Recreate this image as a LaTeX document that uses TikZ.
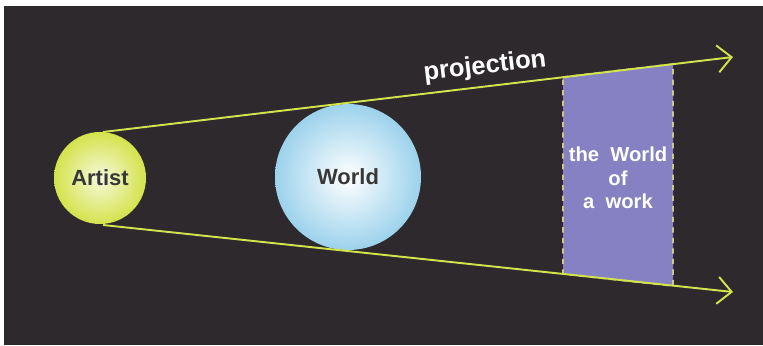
\documentclass[tikz,border=0pt]{standalone}
\usepackage{fontspec}
\setmainfont{Liberation Sans}
\usepackage{xcolor}
\usetikzlibrary{positioning, shapes, arrows.meta, calc}
\definecolor{fondo}{HTML}{2D292D}
\definecolor{lima}{HTML}{D3E34C}
\definecolor{cielo}{HTML}{9CD2EC}
\definecolor{lavanda}{HTML}{8581C2}
\definecolor{borde}{HTML}{C9C98F}

\begin{document}
\begin{tikzpicture}[
  x=0.02cm, y=-0.02cm,
  ray/.style={-{Straight Barb[length=2.8mm, width=5.4mm, line width=1.1pt]}, draw=lima, line width=1.1pt},
  artistball/.style={circle, minimum size=92*0.02cm, inner sep=0pt,
                     inner color=white!80!lima, outer color=lima},
  worldball/.style={circle, minimum size=146*0.02cm, inner sep=0pt,
                    inner color=white, outer color=cielo},
  label/.style={font=\bfseries\fontsize{12.5}{14}\selectfont, text=black!78},
  caption/.style={font=\bfseries\fontsize{11.5}{13.5}\selectfont, text=white, align=center}
]
  \useasboundingbox (0,0) rectangle (763,345);
  \fill[white] (0,0) rectangle (763,345);
  \fill[fondo] (4,6) rectangle (763,345);

  \node[artistball] (artist) at (100,178) {};
  \node[label] at (artist) {Artist};
  \node[worldball] (world) at (348,177) {};
  \node[label] at (world) {World};

  \coordinate (topStart) at (103,132);
  \coordinate (topEnd) at (733,57);
  \coordinate (lowStart) at (103,225);
  \coordinate (lowEnd) at (733,292);

  % the projected plane between both rays
  \coordinate (workTL) at (563,77);
  \coordinate (workTR) at (673,64);
  \coordinate (workBR) at (673,286);
  \coordinate (workBL) at (563,274);
  \draw[borde, dashed, line width=0.9pt, fill=lavanda]
    (workTL) -- (workTR) -- (workBR) -- (workBL) -- cycle;
  \node[caption] (work) at (618,178) {the\ \ World\\of\\a\ \ work};

  \draw[ray] (topStart) -- (topEnd);
  \draw[ray] (lowStart) -- (lowEnd);
  \node[font=\bfseries\fontsize{14.5}{16}\selectfont, text=white, rotate=6.8] (proj) at (485,67) {projection};
\end{tikzpicture}
\end{document}
